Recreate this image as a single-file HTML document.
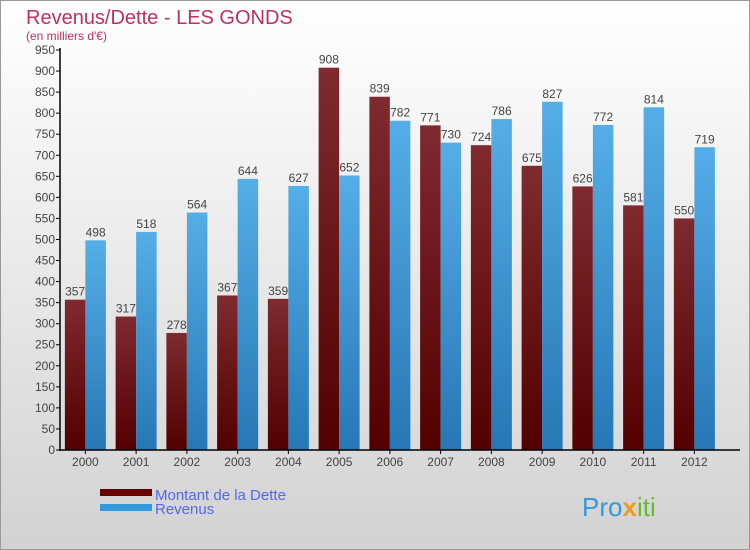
<!DOCTYPE html>
<html><head><meta charset="utf-8"><style>
body{margin:0;}
svg{display:block;font-family:"Liberation Sans",sans-serif;}
</style></head><body>
<svg id="c" width="750" height="550" viewBox="0 0 750 550">
<defs>
<linearGradient id="bg" x1="0" y1="0" x2="0" y2="1"><stop offset="0" stop-color="#ffffff"/><stop offset="1" stop-color="#d2d2d2"/></linearGradient>
<linearGradient id="gd" x1="0" y1="0" x2="0" y2="1"><stop offset="0" stop-color="#7f2a2f"/><stop offset="1" stop-color="#520000"/></linearGradient>
<linearGradient id="gr" x1="0" y1="0" x2="0" y2="1"><stop offset="0" stop-color="#55aee8"/><stop offset="1" stop-color="#2677b5"/></linearGradient>
</defs>
<rect x="0.5" y="0.5" width="749" height="549" fill="url(#bg)" stroke="#999"/>
<text x="26" y="24" font-size="20" fill="#c0305f">Revenus/Dette - LES GONDS</text>
<text x="26" y="40" font-size="12" fill="#c0305f">(en milliers d'€)</text>
<g id="bars"></g>
<g id="axes"></g>
<rect x="100" y="489" width="52" height="7" fill="#600"/>
<text x="155" y="500" font-size="15" fill="#5566ee">Montant de la Dette</text>
<rect x="100" y="504" width="52" height="7" fill="#3399dd"/>
<text x="155" y="514" font-size="15" fill="#5566ee">Revenus</text>
<text x="582" y="516" font-size="26" fill="#3399dd">Pro<tspan fill="#f39c12" font-weight="bold">x</tspan><tspan fill="#66bb33">iti</tspan></text>
</svg>
<script>
const years=["2000","2001","2002","2003","2004","2005","2006","2007","2008","2009","2010","2011","2012"];
const dette=[357,317,278,367,359,908,839,771,724,675,626,581,550];
const revenus=[498,518,564,644,627,652,782,730,786,827,772,814,719];
const yTicks=[0,50,100,150,200,250,300,350,400,450,500,550,600,650,700,750,800,850,900,950];
const NS="http://www.w3.org/2000/svg";
const x0=60,y0=450,step=50.75,bw=20.5;
const y=v=>y0-v*400/950;
const xc=i=>x0+(i+0.5)*step;
function mk(t,a,p){const e=document.createElementNS(NS,t);for(const k in a)e.setAttribute(k,a[k]);p.appendChild(e);return e;}
const B=document.getElementById('bars'),A=document.getElementById('axes');
years.forEach((yr,i)=>{
 const c=xc(i);
 let r=mk('rect',{x:c-bw,y:y(dette[i]),width:bw,height:y0-y(dette[i]),fill:'url(#gd)'},B);
 
 
 r=mk('rect',{x:c,y:y(revenus[i]),width:bw,height:y0-y(revenus[i]),fill:'url(#gr)'},B);
 
 
 let t=mk('text',{x:c-bw/2,y:y(dette[i])-4,'font-size':12,fill:'#444','text-anchor':'middle'},B);t.textContent=dette[i];
 
 
 t=mk('text',{x:c+bw/2,y:y(revenus[i])-4,'font-size':12,fill:'#444','text-anchor':'middle'},B);t.textContent=revenus[i];
 
 
 t=mk('text',{x:c,y:466,'font-size':12,fill:'#444','text-anchor':'middle'},A);t.textContent=yr;
 
 
 mk('line',{x1:c,x2:c,y1:450,y2:454,stroke:'#000'},A);
});
yTicks.forEach(v=>{
 mk('line',{x1:56,x2:60,y1:y(v),y2:y(v),stroke:'#000'},A);
 const t=mk('text',{x:55,y:y(v)+4,'font-size':12,fill:'#444','text-anchor':'end'},A);t.textContent=v;
 
 
});
let l=mk('line',{x1:60,x2:60,y1:48,y2:451,stroke:'#000','stroke-width':1.5},A);


l=mk('line',{x1:59,x2:740,y1:450,y2:450,stroke:'#000','stroke-width':1.5},A);


</script>
</body></html>
